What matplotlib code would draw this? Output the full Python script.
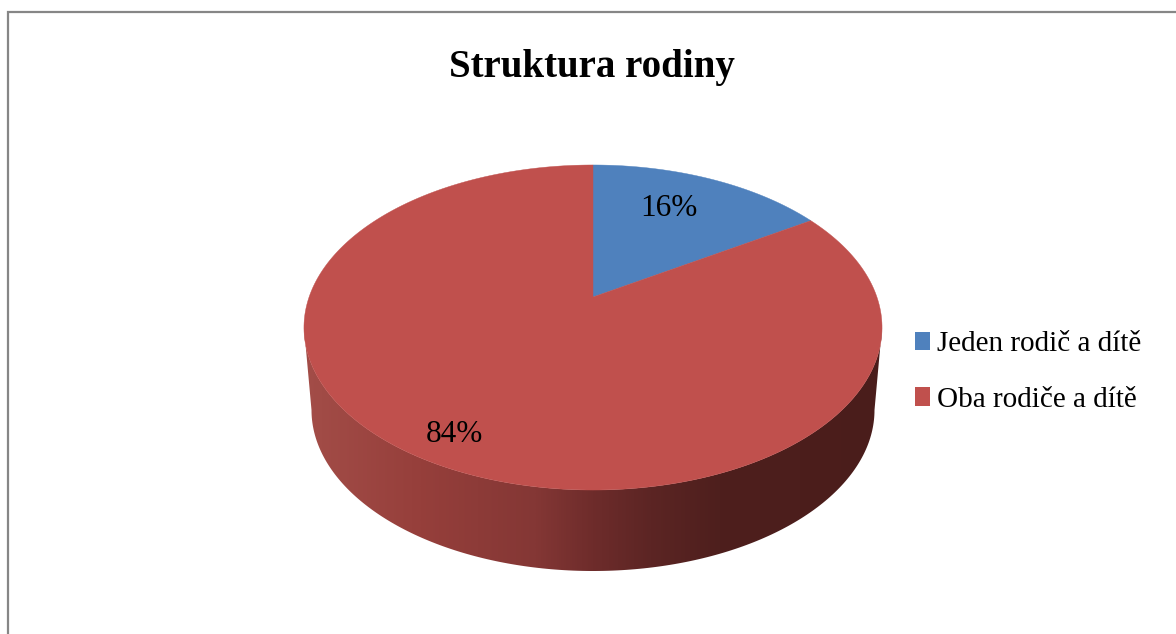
import numpy as np
import matplotlib
matplotlib.use("Agg")
import matplotlib.pyplot as plt
from matplotlib.colors import LinearSegmentedColormap
from matplotlib.patches import Patch, Polygon

# Data
title = "Struktura rodiny"
categories = ["Jeden rodič a dítě", "Oba rodiče a dítě"]
values = [16, 84]
percent_labels = ["16%", "84%"]
colors = ["#4F81BD", "#C0504D"]

# Layout (pixel units of the 1176x634 canvas)
W, H = 1176, 634
CX, CY = 593, 297          # projected pie centre
B, A, K = 283.9, 156.8, 0.1877  # perspective projection of the unit circle
label_xy = [(669, 209), (454, 434)]
TOP_RX, TOP_RY, TOP_CY = 289, 162.5, 327.5
LOW_RX, LOW_RY, LOW_CY = 281.5, 161, 410

plt.rcParams["font.family"] = ["Liberation Serif", "DejaVu Serif"]
fig = plt.figure(figsize=(W / 100, H / 100), dpi=100, facecolor="white")
ax = fig.add_axes([0, 0, 1, 1])
ax.set_xlim(0, W)
ax.set_ylim(H, 0)
ax.axis("off")


def project(theta):
    """Map clockwise-from-top angle on the pie to the canvas, with perspective."""
    u, v = np.sin(theta), np.cos(theta)
    w = 1 + K * v
    return CX + B * u / w, CY - A * v / w


# Chart frame (only top and left edges are visible)
ax.plot([8, 8, W], [H, 12, 12], color="#868686", lw=1.6, solid_joinstyle="miter", zorder=1)

# Side wall of the pie with a horizontal gradient
t = np.linspace(0, np.pi, 200)
top_x = CX - TOP_RX * np.cos(t)
top_y = TOP_CY + TOP_RY * np.sin(t)
low_x = CX + LOW_RX * np.cos(t)
low_y = LOW_CY + LOW_RY * np.sin(t)
side = Polygon(np.r_[np.c_[top_x, top_y], np.c_[low_x, low_y]], closed=True,
               fc="none", ec="none", transform=ax.transData)
ax.add_patch(side)
cmap = LinearSegmentedColormap.from_list(
    "side",
    [(0.0, "#A34D48"), (0.20, "#963F3B"), (0.40, "#843735"), (0.50, "#6E2C2B"),
     (0.60, "#5C2524"), (0.72, "#4E1F1D"), (1.0, "#4A1D1B")],
)
grad = ax.imshow(np.linspace(0, 1, 512)[None, :], cmap=cmap, aspect="auto",
                 extent=(CX - TOP_RX, CX + TOP_RX, 575, 320), zorder=2,
                 interpolation="bilinear")
grad.set_clip_path(side)
ax.set_xlim(0, W)
ax.set_ylim(H, 0)

# Top face wedges, computed from the values
edges = np.r_[0, np.cumsum(values)] / np.sum(values) * 2 * np.pi
for start, end, color in zip(edges[:-1], edges[1:], colors):
    th = np.linspace(start, end, 300)
    x, y = project(th)
    pts = np.r_[[[CX, CY]], np.c_[x, y]]
    ax.add_patch(Polygon(pts, closed=True, fc=color, ec=color, lw=0.3, zorder=3))

# Percent labels
for (x, y), text in zip(label_xy, percent_labels):
    ax.text(x, y, text, ha="center", va="center", fontsize=22.5, color="black", zorder=4)

# Title
ax.text(592, 67, title, ha="center", va="center", fontsize=28, fontweight="bold",
        color="black", zorder=4)

# Legend
handles = [Patch(fc=c, ec="none") for c in colors]
ax.legend(handles, categories, loc="center left", bbox_to_anchor=(906 / W, 1 - 372 / H),
          bbox_transform=fig.transFigure, frameon=False, fontsize=21,
          handlelength=0.52, handleheight=0.6, handletextpad=0.25,
          labelspacing=1.0, borderpad=0, borderaxespad=0.3)

fig.savefig("out.png", dpi=100, facecolor="white")
